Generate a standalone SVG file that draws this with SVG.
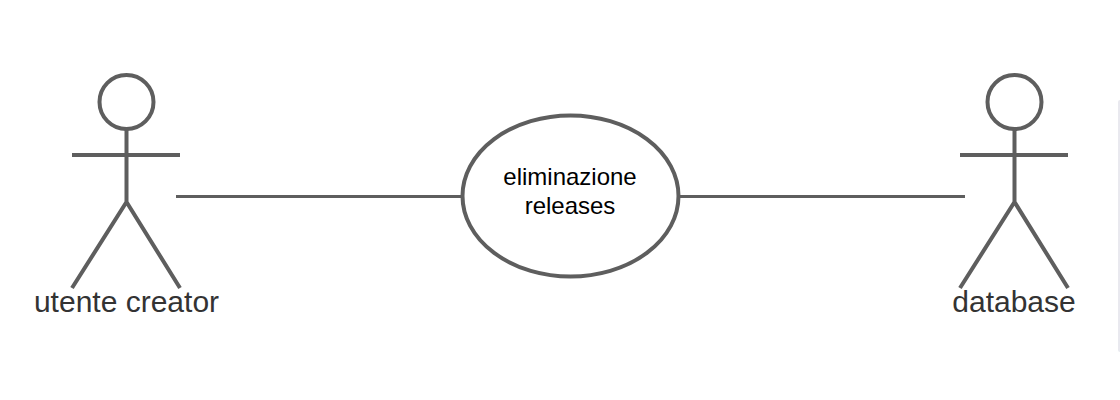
<svg xmlns="http://www.w3.org/2000/svg" width="1120" height="400" viewBox="0 0 1120 400">
<style>
.s{fill:none;stroke:#5e5e5e;stroke-width:4}
.c{fill:none;stroke:#5e5e5e;stroke-width:3}
.a{font-family:"Liberation Sans",Arial,sans-serif;font-size:30px;fill:#333}
.u{font-family:"Liberation Sans",Arial,sans-serif;font-size:24px;fill:#000}
</style>
<rect width="1120" height="400" fill="#fff"/>
<rect x="1118" y="100" width="4" height="252" rx="2" fill="#e9e9ef"/>
<g id="connectors">
<path class="c" d="M176 196.500H462"/>
<path class="c" d="M679 196.500H965"/>
</g>
<g id="actor-creator">
<circle class="s" cx="126.500" cy="102" r="27"/>
<path class="s" d="M126.500 129V202M72 155H180M72 288L126.500 202L180 288"/>
<text class="a" x="126.500" y="312" text-anchor="middle">utente creator</text>
</g>
<g id="usecase">
<ellipse class="s" cx="570.500" cy="196" rx="108" ry="80.500"/>
<text class="u" x="570" y="185" text-anchor="middle">eliminazione</text>
<text class="u" x="570" y="214" text-anchor="middle">releases</text>
</g>
<g id="actor-database">
<circle class="s" cx="1014.500" cy="102" r="27"/>
<path class="s" d="M1014.500 129V202M960 155H1068M960 288L1014.500 202L1068 288"/>
<text class="a" x="1014" y="311.500" text-anchor="middle">database</text>
</g>
</svg>
